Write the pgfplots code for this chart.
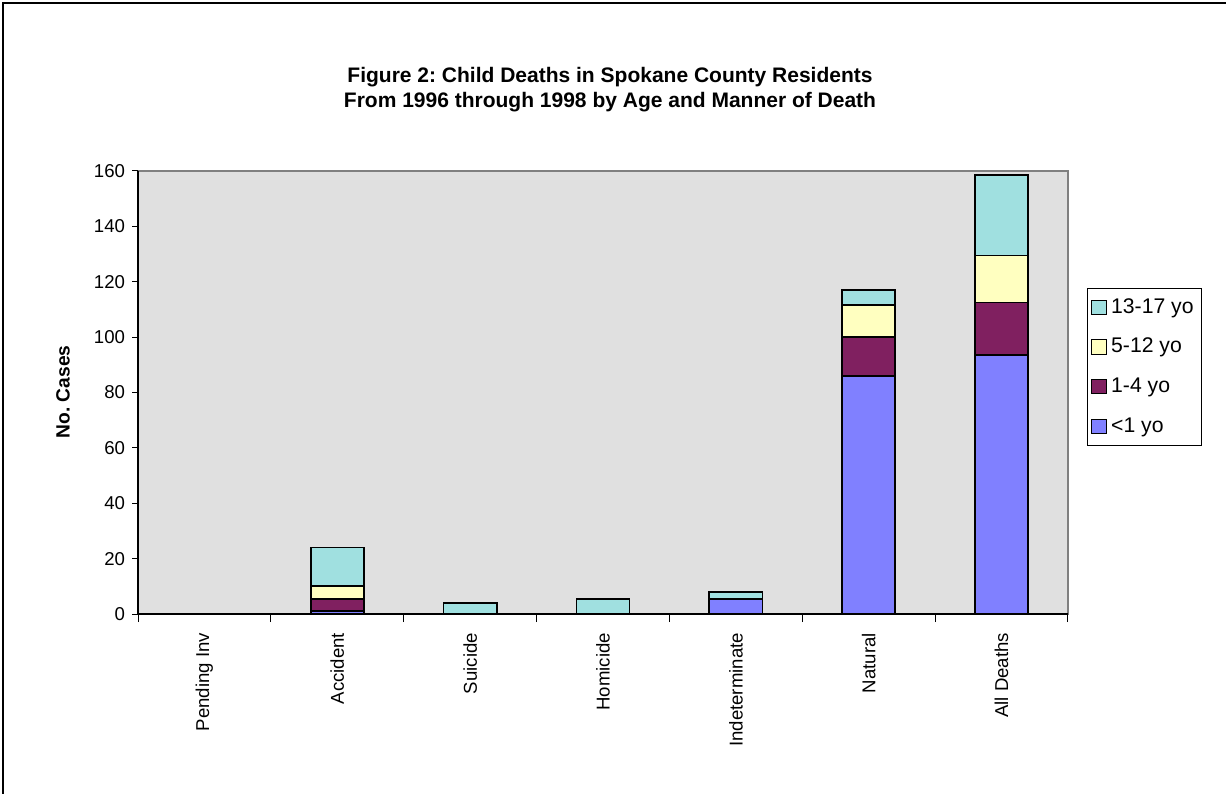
\documentclass[border=0pt]{standalone}
\usepackage{pgfplots}
\pgfplotsset{compat=1.18}
\usepackage{fontspec}
\setmainfont{Liberation Sans}
\definecolor{cLt}{HTML}{8080FF}
\definecolor{cOne}{HTML}{802060}
\definecolor{cFive}{HTML}{FFFFC0}
\definecolor{cTeen}{HTML}{A0E0E0}
\definecolor{bg}{HTML}{E0E0E0}
\begin{document}
\frenchspacing
\begin{tikzpicture}
\useasboundingbox (0,0) rectangle (613bp,397bp);
\draw[line width=1bp] (1.5bp,0) -- (1.5bp,395.5bp) -- (613bp,395.5bp);
\node[align=center,font=\fontsize{10.5bp}{12.5bp}\selectfont\bfseries] at (305bp,352bp)
  {Figure 2: Child Deaths in Spokane County Residents\\From 1996 through 1998 by Age and Manner of Death};
\node[rotate=90,font=\fontsize{9.6bp}{10bp}\selectfont\bfseries] at (31.5bp,201bp) {No. Cases};
\begin{axis}[
  at={(69bp,90bp)}, anchor=south west,
  scale only axis, width=465bp, height=221.5bp,
  ybar stacked, bar width=0.4,
  xmin=-0.5, xmax=6.5, ymin=0, ymax=160,
  ytick={0,20,...,160},
  xtick={0,...,6},
  xticklabels={Pending Inv,Accident,Suicide,Homicide,Indeterminate,Natural,All Deaths},
  minor xtick={-0.5,0.5,...,6.5},
  major x tick style={draw=none},
  tick align=outside, tick pos=left,
  major tick length=3bp, minor tick length=4bp,
  tick style={black, line width=0.5bp},
  x tick label style={rotate=90, anchor=east, xshift=-3bp},
  ticklabel style={font=\fontsize{9.3bp}{10bp}\selectfont},
  /pgf/number format/assume math mode=true,
  axis line style={draw=none},
  axis background/.style={fill=bg, draw=gray, line width=0.6bp},
  every axis plot/.append style={draw=black, line width=0.9bp},
  reverse legend,
  legend style={at={(1.0204,0.7359)}, anchor=north west, draw=black, line width=0.4bp,
    font=\fontsize{10.6bp}{12bp}\selectfont, row sep=7bp, inner xsep=2bp, inner ysep=3bp,
    legend cell align=left},
  legend image code/.code={\draw[#1, line width=0.5bp] (0bp,-3.6bp) rectangle (7.4bp,3.6bp);},
  clip=false,
]
\addplot[fill=cLt] coordinates {(0,0) (1,1) (2,0) (3,0) (4,5.5) (5,86) (6,93.5)};
\addplot[fill=cOne] coordinates {(0,0) (1,4.5) (2,0) (3,0) (4,0) (5,14) (6,19)};
\addplot[fill=cFive] coordinates {(0,0) (1,4.5) (2,0) (3,0) (4,0) (5,11.5) (6,17)};
\addplot[fill=cTeen] coordinates {(0,0) (1,14) (2,4) (3,5.5) (4,2.5) (5,5.5) (6,29)};
\legend{<1 yo,1-4 yo,5-12 yo,13-17 yo}
\draw[black, line width=0.6bp] (axis cs:-0.5,0) -- (axis cs:6.5,0);
\draw[black, line width=0.6bp] (axis cs:-0.5,0) -- (axis cs:-0.5,160);
\end{axis}
\end{tikzpicture}
\end{document}
